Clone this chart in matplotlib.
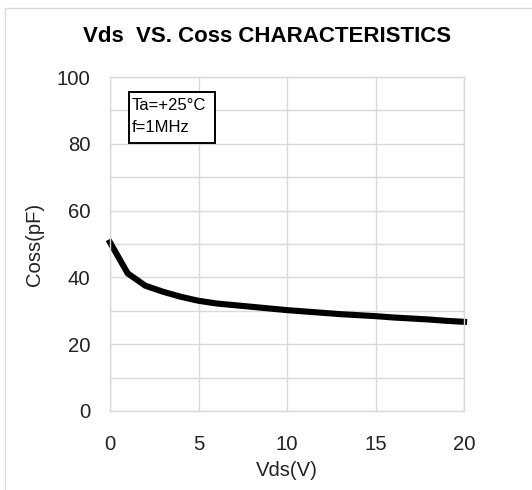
import matplotlib
matplotlib.use("Agg")
import matplotlib.pyplot as plt
from matplotlib.patches import Rectangle

plt.rcParams['font.family'] = ['Liberation Sans', 'DejaVu Sans']

vds = [0, 1, 2, 3, 4, 5, 6, 7, 8, 9, 10, 11, 12, 13, 14, 15, 16, 17, 18, 19, 20]
coss = [50.5, 41.2, 37.5, 35.7, 34.2, 33.0, 32.2, 31.7, 31.2, 30.7, 30.2,
        29.8, 29.4, 29.0, 28.7, 28.4, 28.0, 27.7, 27.4, 27.0, 26.7]
x_ticks = [0, 5, 10, 15, 20]
y_ticks = [0, 20, 40, 60, 80, 100]
title = "Vds  VS. Coss CHARACTERISTICS"
x_label = "Vds(V)"
y_label = "Coss(pF)"
note_lines = ["Ta=+25°C", "f=1MHz"]

W, H = 532, 490
fig = plt.figure(figsize=(W / 100, H / 100), dpi=100)
ax = fig.add_axes([110 / W, 1 - 411 / H, (464 - 110) / W, (411 - 77) / H])

# chart border (top/left visible)
fig.patches.append(Rectangle((5 / W, -0.1), 1.2, 1 - 8 / H + 0.1, transform=fig.transFigure,
                             fill=False, edgecolor='#d9d9d9', linewidth=1.0))

grid_c = '#d9d9d9'
ax.set_xlim(0, 20)
ax.set_ylim(0, 100)
ax.set_xticks(x_ticks)
ax.set_yticks(y_ticks)
ax.set_yticks(range(0, 101, 10), minor=True)
ax.grid(True, which='both', color=grid_c, linewidth=1.0)
ax.set_axisbelow(True)
for s in ax.spines.values():
    s.set_color(grid_c)
    s.set_linewidth(1.0)
ax.tick_params(axis='both', which='both', length=0, labelsize=14.6, colors='black')
ax.tick_params(axis='y', pad=14)
ax.tick_params(axis='x', pad=17)
for lab in ax.get_xticklabels() + ax.get_yticklabels():
    lab.set_color('#222222')

ax.plot(vds, coss, color='black', linewidth=4.4, solid_joinstyle='miter', clip_on=False)

ax.set_xlabel(x_label, fontsize=14.6, labelpad=5, color='#222222')
ax.set_ylabel(y_label, fontsize=14.6, labelpad=9, color='#222222')
fig.text(0.5 * (83 + 451) / W, 1 - 37 / H, title, fontsize=16, fontweight='bold',
         ha='center', va='center')

# note box
ax.add_patch(Rectangle((1.09, 80.2), 5.95 - 1.09, 95.5 - 80.2, facecolor='white',
                       edgecolor='black', linewidth=1.4, zorder=5))
ax.text(1.24, 90.1, note_lines[0], fontsize=12, ha='left', va='baseline', zorder=6)
ax.text(1.24, 83.6, note_lines[1], fontsize=12, ha='left', va='baseline', zorder=6)

fig.savefig('out.png', dpi=100)
